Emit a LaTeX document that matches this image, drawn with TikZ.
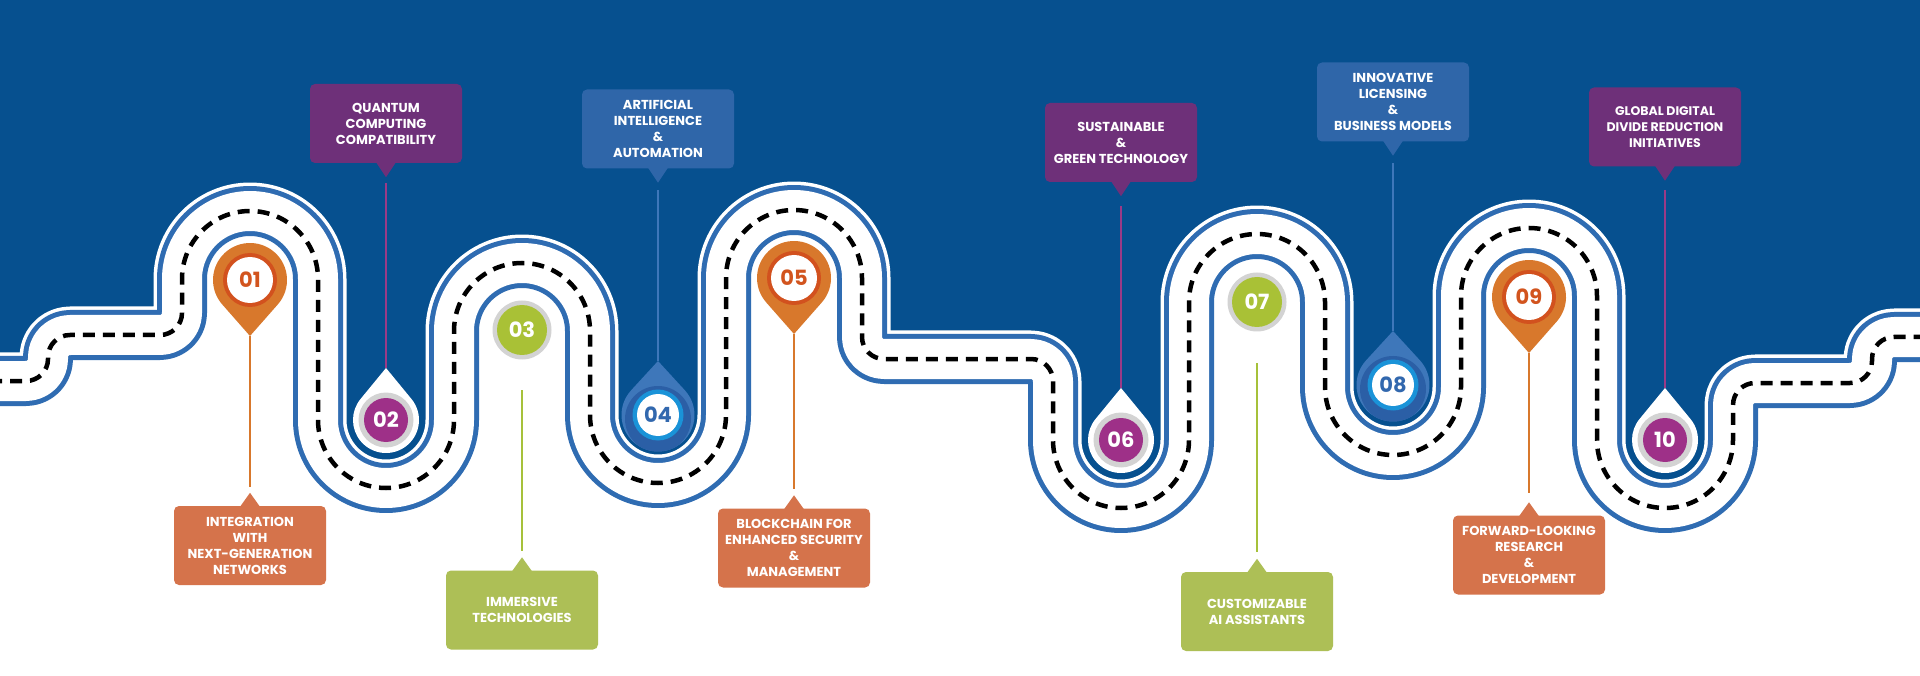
\documentclass[tikz,border=0pt]{standalone}
\usepackage{fontspec}
\setmainfont{Poppins}
\usetikzlibrary{calc}
\definecolor{bgblue}{HTML}{06508F}
\definecolor{roadblue}{HTML}{2F6CB2}
\definecolor{boxpurple}{HTML}{6E3079}
\definecolor{boxblue}{HTML}{2F66A9}
\definecolor{boxorange}{HTML}{D5734B}
\definecolor{boxgreen}{HTML}{ADBF56}
\definecolor{circpurple}{HTML}{9E3088}
\definecolor{linepurple}{HTML}{9B3A87}
\definecolor{pinorange}{HTML}{D8782C}
\definecolor{pinring}{HTML}{D2511E}
\definecolor{pinnum}{HTML}{D2541E}
\definecolor{circgreen}{HTML}{A9C136}
\definecolor{linegreen}{HTML}{A6C13A}
\definecolor{dropblue}{HTML}{3E77BA}
\definecolor{dropdark}{HTML}{2B5FA6}
\definecolor{cyanring}{HTML}{1A93D8}
\definecolor{bluenum}{HTML}{3268AE}
\definecolor{greyring}{HTML}{D3D3D3}
\tikzset{
  lbl/.style={rounded corners=5pt, minimum width=152pt, minimum height=79pt, inner sep=0pt, align=center, text=white, font=\bfseries\fontsize{13}{16}\selectfont},
  num/.style={font=\bfseries\fontsize{21}{21}\selectfont, inner sep=0pt},
  conn/.style={line width=2.6pt},
}
% orange pin: name, x, y, label
\newcommand\orpin[4]{%
  \fill[pinorange] (#2,#3+56) -- (#2+27.77,#3+24.46) arc[start angle=41.4,end angle=-221.4,radius=37] -- cycle;
  \fill[pinring] (#2,#3) circle[radius=27];
  \fill[white] (#2,#3) circle[radius=23];
  \node[num,text=pinnum] (#1) at (#2,#3) {#4};}
% white drop with purple circle
\newcommand\purpdrop[4]{%
  \fill[white] (#2,#3-52) -- (#2+25.5,#3-20.95) arc[start angle=320.6,end angle=579.4,radius=33] -- cycle;
  \fill[greyring] (#2,#3) circle[radius=27.5];
  \fill[circpurple] (#2,#3) circle[radius=22];
  \node[num,text=white] (#1) at (#2,#3) {#4};}
% green circle
\newcommand\greencirc[4]{%
  \fill[greyring] (#2,#3) circle[radius=29.5];
  \fill[circgreen] (#2,#3) circle[radius=25];
  \node[num,text=white] (#1) at (#2,#3) {#4};}
% blue drop
\newcommand\bluedrop[4]{%
  \begin{scope}
  \clip (#2,#3-54) -- (#2+26.91,#3-24.66) arc[start angle=317.5,end angle=582.5,radius=36.5] -- cycle;
  \fill[dropblue] (#2-40,#3-60) rectangle (#2+40,#3+40);
  \fill[dropdark] (#2,#3+4) circle[radius=33];
  \end{scope}
  \fill[cyanring] (#2,#3) circle[radius=25.5];
  \fill[white] (#2,#3) circle[radius=21];
  \node[num,text=bluenum] (#1) at (#2,#3) {#4};}
\newcommand\ptrup[2]{\fill[#2] ($(#1.north)+(-10,1)$) -- ($(#1.north)+(10,1)$) -- ($(#1.north)+(0,-13)$) -- cycle;}
\newcommand\ptrdown[2]{\fill[#2] ($(#1.south)+(-10,-1)$) -- ($(#1.south)+(10,-1)$) -- ($(#1.south)+(0,14)$) -- cycle;}
\begin{document}
\begin{tikzpicture}[x=1pt,y=-1pt]
\useasboundingbox (0,0) rectangle (1920,676);
\clip (0,0) rectangle (1920,676);
\fill[white] (0,0) rectangle (1920,676);
\def\road{(-10,381) -- (26,381) arc[start angle=90,end angle=0,radius=22]
 -- (48,357) arc[start angle=180,end angle=270,radius=22]
 -- (160,335) arc[start angle=90,end angle=0,radius=22]
 -- (182,279) arc[start angle=180,end angle=360,radius=68]
 -- (318,420) arc[start angle=180,end angle=0,radius=68]
 -- (454,331) arc[start angle=180,end angle=360,radius=68]
 -- (590,415) arc[start angle=180,end angle=0,radius=68]
 -- (726,278) arc[start angle=180,end angle=360,radius=68]
 -- (862,337) arc[start angle=180,end angle=90,radius=22]
 -- (1031,359) arc[start angle=270,end angle=360,radius=22]
 -- (1053,440) arc[start angle=180,end angle=0,radius=68]
 -- (1189,302) arc[start angle=180,end angle=360,radius=68]
 -- (1325,387) arc[start angle=180,end angle=0,radius=68]
 -- (1461,296) arc[start angle=180,end angle=360,radius=68]
 -- (1597,440) arc[start angle=180,end angle=0,radius=68]
 -- (1733,405) arc[start angle=180,end angle=270,radius=22]
 -- (1850,383) arc[start angle=90,end angle=0,radius=22]
 -- (1872,359) arc[start angle=180,end angle=270,radius=22]
 -- (1930,337)}
\fill[bgblue] \road -- (1930,-10) -- (-10,-10) -- cycle;
\draw[white,line width=57pt,line join=round] \road;
\draw[roadblue,line width=50pt,line join=round] \road;
\draw[white,line width=40pt,line join=round] \road;
\draw[black,line width=4.5pt,dash pattern=on 12pt off 8pt] \road;

% connector end points
\coordinate (t1) at (250,336);  \coordinate (e1) at (250,487);
\coordinate (t2) at (386,368);  \coordinate (e2) at (386,183);
\coordinate (t3) at (522,390);  \coordinate (e3) at (522,551);
\coordinate (t4) at (658,361);  \coordinate (e4) at (658,190);
\coordinate (t5) at (794,334);  \coordinate (e5) at (794,489);
\coordinate (t6) at (1121,388); \coordinate (e6) at (1121,206);
\coordinate (t7) at (1257,363); \coordinate (e7) at (1257,552);
\coordinate (t8) at (1393,331); \coordinate (e8) at (1393,163);
\coordinate (t9) at (1529,353); \coordinate (e9) at (1529,493);
\coordinate (t10) at (1665,388); \coordinate (e10) at (1665,190);
\draw[conn,pinorange] (t1) -- (e1);
\draw[conn,linepurple] (t2) -- (e2);
\draw[conn,linegreen] (t3) -- (e3);
\draw[conn,dropblue] (t4) -- (e4);
\draw[conn,pinorange] (t5) -- (e5);
\draw[conn,linepurple] (t6) -- (e6);
\draw[conn,linegreen] (t7) -- (e7);
\draw[conn,dropblue] (t8) -- (e8);
\draw[conn,pinorange] (t9) -- (e9);
\draw[conn,linepurple] (t10) -- (e10);

% markers
\orpin{m1}{250}{280}{01}
\purpdrop{m2}{386}{420}{02}
\greencirc{m3}{522}{330}{03}
\bluedrop{m4}{658}{415}{04}
\orpin{m5}{794}{278}{05}
\purpdrop{m6}{1121}{440}{06}
\greencirc{m7}{1257}{302}{07}
\bluedrop{m8}{1393}{385}{08}
\orpin{m9}{1529}{297}{09}
\purpdrop{m10}{1665}{440}{10}

% label boxes
\node[lbl,fill=boxorange] (b1) at (250,545.5) {INTEGRATION\\WITH\\NEXT-GENERATION\\NETWORKS};
\node[lbl,fill=boxpurple] (b2) at (386,123.5) {QUANTUM\\COMPUTING\\COMPATIBILITY};
\node[lbl,fill=boxgreen] (b3) at (522,610) {IMMERSIVE\\TECHNOLOGIES};
\node[lbl,fill=boxblue] (b4) at (658,129) {ARTIFICIAL\\INTELLIGENCE\\\&\\AUTOMATION};
\node[lbl,fill=boxorange] (b5) at (794,548) {BLOCKCHAIN FOR\\ENHANCED SECURITY\\\&\\MANAGEMENT};
\node[lbl,fill=boxpurple] (b6) at (1121,142.5) {SUSTAINABLE\\\&\\GREEN TECHNOLOGY};
\node[lbl,fill=boxgreen] (b7) at (1257,611.5) {CUSTOMIZABLE\\AI ASSISTANTS};
\node[lbl,fill=boxblue] (b8) at (1393,102) {INNOVATIVE\\LICENSING\\\&\\BUSINESS MODELS};
\node[lbl,fill=boxorange] (b9) at (1529,555) {FORWARD-LOOKING\\RESEARCH\\\&\\DEVELOPMENT};
\node[lbl,fill=boxpurple,font=\bfseries\fontsize{12.5}{16}\selectfont] (b10) at (1665,127) {GLOBAL DIGITAL\\DIVIDE REDUCTION\\INITIATIVES};
\ptrup{b1}{boxorange}
\ptrdown{b2}{boxpurple}
\ptrup{b3}{boxgreen}
\ptrdown{b4}{boxblue}
\ptrup{b5}{boxorange}
\ptrdown{b6}{boxpurple}
\ptrup{b7}{boxgreen}
\ptrdown{b8}{boxblue}
\ptrup{b9}{boxorange}
\ptrdown{b10}{boxpurple}
\end{tikzpicture}
\end{document}
